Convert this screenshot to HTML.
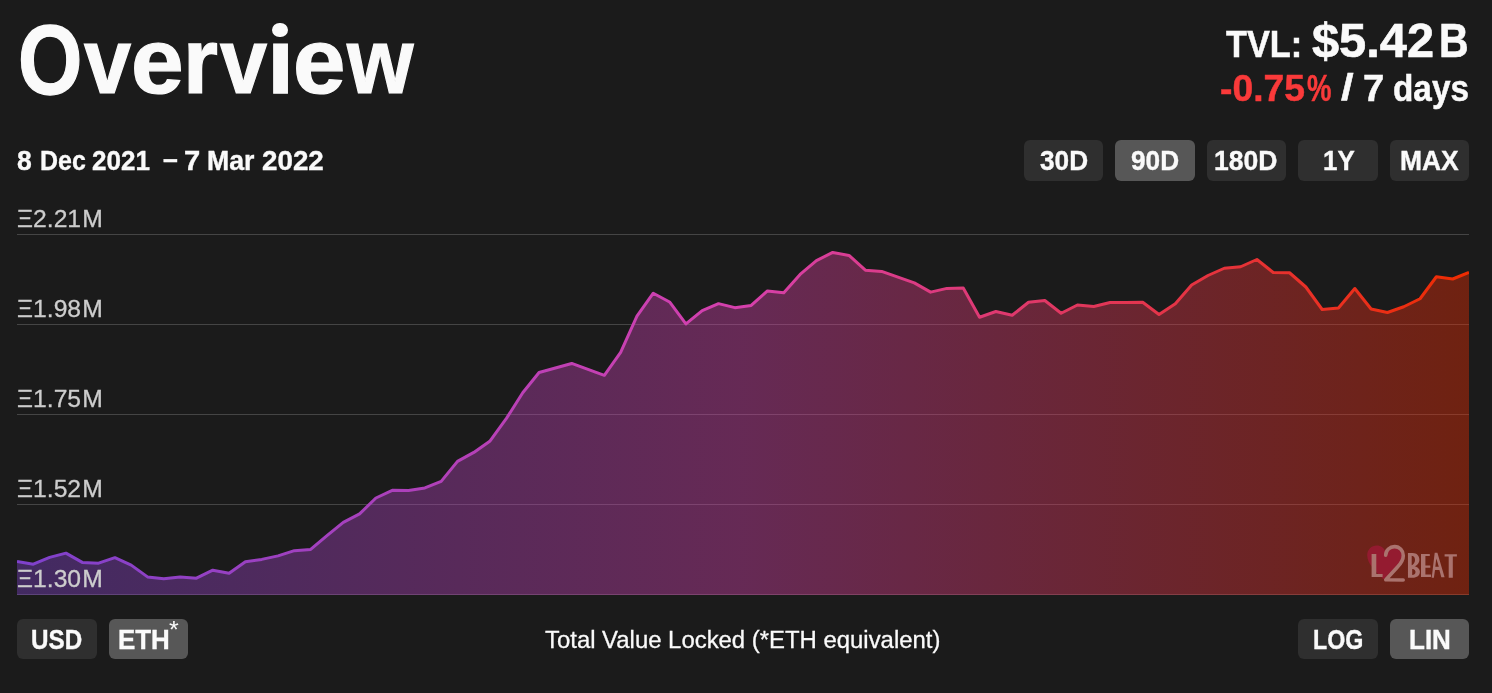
<!DOCTYPE html>
<html><head><meta charset="utf-8"><title>Overview</title>
<style>
html,body{margin:0;padding:0}
body{width:1492px;height:693px;overflow:hidden;position:relative;background:#1b1b1b;color:#fafafa;font-family:"Liberation Sans",sans-serif}
.t{position:absolute;white-space:nowrap;line-height:1;transform-origin:0 0;font-weight:bold;color:#fafafa}
#txt{position:absolute;left:0;top:0;width:1492px;height:693px;will-change:transform}
.r{font-weight:normal}
.t.red{color:#fa3a3a}
.lab{font-weight:normal;color:#cdcdcd}
.b{position:absolute;height:40.5px;width:79.4px;border-radius:6px;background:#2f2f2f}
.b.on{background:#575757}
.g{position:absolute;left:17px;width:1452px;height:1px;background:#454545}
svg{position:absolute;left:0;top:0}
</style></head><body>

<div class="g" style="top:234px"></div>
<div class="g" style="top:324px"></div>
<div class="g" style="top:414px"></div>
<div class="g" style="top:504px"></div>
<div class="g" style="top:594px"></div>
<svg width="1492" height="693" viewBox="0 0 1492 693">
<defs>
<linearGradient id="gl" gradientUnits="userSpaceOnUse" x1="17" y1="0" x2="1469" y2="0">
<stop offset="0" stop-color="#7E41CC"/><stop offset="0.5" stop-color="#D640AC"/><stop offset="1" stop-color="#EE2C01"/>
</linearGradient>
<clipPath id="cp"><rect x="17" y="200" width="1452" height="395"/></clipPath>
</defs>
<g clip-path="url(#cp)">
<path d="M17.00 561.40 L33.31 564.15 L49.63 557.40 L65.94 553.15 L82.26 562.40 L98.57 563.15 L114.89 557.65 L131.20 565.15 L147.52 576.90 L163.83 578.65 L180.15 576.90 L196.46 578.15 L212.78 570.15 L229.09 573.15 L245.40 561.65 L261.72 559.40 L278.03 555.90 L294.35 550.65 L310.66 549.40 L326.98 535.65 L343.29 522.40 L359.61 513.90 L375.92 498.00 L392.24 490.30 L408.55 490.40 L424.87 487.90 L441.18 481.40 L457.49 461.40 L473.81 452.40 L490.12 440.90 L506.44 418.40 L522.75 392.70 L539.07 372.45 L555.38 368.00 L571.70 363.45 L588.01 369.40 L604.33 375.30 L620.64 352.45 L636.96 316.20 L653.27 293.20 L669.58 301.95 L685.90 323.95 L702.21 310.70 L718.53 303.65 L734.84 307.65 L751.16 305.40 L767.47 290.90 L783.79 292.65 L800.10 274.40 L816.42 260.65 L832.73 252.40 L849.04 255.40 L865.36 270.15 L881.67 271.40 L897.99 277.15 L914.30 282.90 L930.62 292.15 L946.93 288.40 L963.25 287.90 L979.56 317.25 L995.88 311.50 L1012.19 315.25 L1028.51 302.25 L1044.82 300.50 L1061.13 313.25 L1077.45 305.00 L1093.76 306.50 L1110.08 302.50 L1126.39 302.50 L1142.71 302.25 L1159.02 314.50 L1175.34 303.75 L1191.65 285.00 L1207.97 275.50 L1224.28 268.25 L1240.60 266.75 L1256.91 259.50 L1273.22 272.50 L1289.54 272.75 L1305.85 287.00 L1322.17 309.50 L1338.48 308.00 L1354.80 288.50 L1371.11 309.00 L1387.43 312.50 L1403.74 306.75 L1420.06 298.75 L1436.37 276.75 L1452.69 279.00 L1469.00 272.50 L1469.00 595 L17.00 595 Z" fill="url(#gl)" fill-opacity="0.4"/>
<path d="M17.00 561.40 L33.31 564.15 L49.63 557.40 L65.94 553.15 L82.26 562.40 L98.57 563.15 L114.89 557.65 L131.20 565.15 L147.52 576.90 L163.83 578.65 L180.15 576.90 L196.46 578.15 L212.78 570.15 L229.09 573.15 L245.40 561.65 L261.72 559.40 L278.03 555.90 L294.35 550.65 L310.66 549.40 L326.98 535.65 L343.29 522.40 L359.61 513.90 L375.92 498.00 L392.24 490.30 L408.55 490.40 L424.87 487.90 L441.18 481.40 L457.49 461.40 L473.81 452.40 L490.12 440.90 L506.44 418.40 L522.75 392.70 L539.07 372.45 L555.38 368.00 L571.70 363.45 L588.01 369.40 L604.33 375.30 L620.64 352.45 L636.96 316.20 L653.27 293.20 L669.58 301.95 L685.90 323.95 L702.21 310.70 L718.53 303.65 L734.84 307.65 L751.16 305.40 L767.47 290.90 L783.79 292.65 L800.10 274.40 L816.42 260.65 L832.73 252.40 L849.04 255.40 L865.36 270.15 L881.67 271.40 L897.99 277.15 L914.30 282.90 L930.62 292.15 L946.93 288.40 L963.25 287.90 L979.56 317.25 L995.88 311.50 L1012.19 315.25 L1028.51 302.25 L1044.82 300.50 L1061.13 313.25 L1077.45 305.00 L1093.76 306.50 L1110.08 302.50 L1126.39 302.50 L1142.71 302.25 L1159.02 314.50 L1175.34 303.75 L1191.65 285.00 L1207.97 275.50 L1224.28 268.25 L1240.60 266.75 L1256.91 259.50 L1273.22 272.50 L1289.54 272.75 L1305.85 287.00 L1322.17 309.50 L1338.48 308.00 L1354.80 288.50 L1371.11 309.00 L1387.43 312.50 L1403.74 306.75 L1420.06 298.75 L1436.37 276.75 L1452.69 279.00 L1469.00 272.50" fill="none" stroke="url(#gl)" stroke-width="3" stroke-linejoin="round"/>
</g>
</svg>

<div class="b" style="left:1024px;top:140px;width:79px;height:41px"></div>
<div class="b on" style="left:1115px;top:140px;width:80px;height:41px"></div>
<div class="b" style="left:1207px;top:140px;width:79px;height:41px"></div>
<div class="b" style="left:1298px;top:140px;width:80px;height:41px"></div>
<div class="b" style="left:1390px;top:140px;width:79px;height:41px"></div>
<div class="b" style="left:17px;top:619px;width:80px;height:40px"></div>
<div class="b on" style="left:109px;top:619px;width:79px;height:40px"></div>
<div class="b" style="left:1298px;top:619px;width:80px;height:40px"></div>
<div class="b on" style="left:1390px;top:619px;width:79px;height:40px"></div>
<div id="txt">
<div class="t lab" id="lab0" style="left:16.93px;top:206.72px;font-size:24.80px;transform:scaleX(0.9956);-webkit-text-stroke:0.3px">&#926;2.21<span style="margin-left:1.1px">M</span></div>
<div class="t lab" id="lab1" style="left:16.93px;top:296.72px;font-size:24.80px;transform:scaleX(0.9956);-webkit-text-stroke:0.3px">&#926;1.98<span style="margin-left:1.1px">M</span></div>
<div class="t lab" id="lab2" style="left:16.93px;top:386.72px;font-size:24.80px;transform:scaleX(0.9956);-webkit-text-stroke:0.3px">&#926;1.75<span style="margin-left:1.1px">M</span></div>
<div class="t lab" id="lab3" style="left:16.93px;top:476.72px;font-size:24.80px;transform:scaleX(0.9956);-webkit-text-stroke:0.3px">&#926;1.52<span style="margin-left:1.1px">M</span></div>
<div class="t lab" id="lab4" style="left:16.93px;top:566.72px;font-size:24.80px;transform:scaleX(0.9956);-webkit-text-stroke:0.3px">&#926;1.30<span style="margin-left:1.1px">M</span></div>
<div class="t " id="tO" style="left:17.94px;top:11.57px;font-size:97.30px;transform:scale(0.8504,1.0060);-webkit-text-stroke:0.0135em">O</div>
<div class="t " id="tv1" style="left:83.53px;top:14.67px;font-size:97.30px;transform:scale(0.8690,0.9500);-webkit-text-stroke:0.0135em">v</div>
<div class="t " id="te1" style="left:131.10px;top:15.07px;font-size:97.30px;transform:scale(0.9724,0.9500);-webkit-text-stroke:0.0135em">e</div>
<div class="t " id="tr" style="left:182.84px;top:14.67px;font-size:97.30px;transform:scale(0.9214,0.9500);-webkit-text-stroke:0.0135em">r</div>
<div class="t " id="tv2" style="left:219.57px;top:14.67px;font-size:97.30px;transform:scale(0.8692,0.9500);-webkit-text-stroke:0.0135em">v</div>
<div class="t " id="ti" style="left:266.52px;top:14.67px;font-size:97.30px;transform:scale(1.0065,0.9500);-webkit-text-stroke:0.0135em">i</div>
<div class="t " id="te2" style="left:292.84px;top:15.07px;font-size:97.30px;transform:scale(0.9683,0.9500);-webkit-text-stroke:0.0135em">e</div>
<div class="t " id="tw" style="left:346.50px;top:14.67px;font-size:97.30px;transform:scale(0.8781,0.9500);-webkit-text-stroke:0.0135em">w</div>
<div class="dot" style="position:absolute;left:270px;top:19px;width:20px;height:21.5px;background:#1b1b1b"></div><div class="dot" style="position:absolute;left:272.2px;top:22.6px;width:16px;height:14.8px;border-radius:50%;background:#fafafa"></div>
<div class="t " id="d8" style="left:16.80px;top:147.28px;font-size:27.37px;transform:scaleX(0.9700);-webkit-text-stroke:0.0135em">8</div>
<div class="t " id="dDec" style="left:40.00px;top:147.28px;font-size:27.37px;transform:scaleX(0.9123);-webkit-text-stroke:0.0135em">Dec</div>
<div class="t " id="d2021" style="left:92.47px;top:147.28px;font-size:27.37px;transform:scaleX(0.9524);-webkit-text-stroke:0.0135em">2021</div>
<div class="t " id="ddash" style="left:162.72px;top:145.07px;font-size:27.37px;transform:scaleX(0.9741);-webkit-text-stroke:0.0135em">&#8211;</div>
<div class="t " id="d7" style="left:184.07px;top:147.28px;font-size:27.37px;transform:scaleX(1.0666);-webkit-text-stroke:0.0135em">7</div>
<div class="t " id="dMar" style="left:207.42px;top:147.28px;font-size:27.37px;transform:scaleX(0.9751);-webkit-text-stroke:0.0135em">Mar</div>
<div class="t " id="d2022" style="left:261.58px;top:147.28px;font-size:27.37px;transform:scaleX(1.0155);-webkit-text-stroke:0.0135em">2022</div>
<div class="t " id="tvl" style="left:1226.29px;top:27.11px;font-size:36.49px;transform:scaleX(0.9410);-webkit-text-stroke:0.0135em">TVL:</div>
<div class="t " id="v1" style="left:1311.70px;top:15.84px;font-size:48.65px;transform:scaleX(1.0022);-webkit-text-stroke:0.0135em">$5.42</div>
<div class="t " id="v2" style="left:1439.06px;top:15.84px;font-size:48.65px;transform:scaleX(0.8432);-webkit-text-stroke:0.0135em">B</div>
<div class="t red" id="p1" style="left:1219.72px;top:70.95px;font-size:36.49px;transform:scaleX(1.0218);-webkit-text-stroke:0.0135em">-0.75</div>
<div class="t red" id="p2" style="left:1306.68px;top:70.95px;font-size:36.49px;transform:scaleX(0.7540);-webkit-text-stroke:0.0135em">%</div>
<div class="t " id="y1" style="left:1340.52px;top:69.85px;font-size:36.49px;transform:scaleX(1.2429);-webkit-text-stroke:0.0135em">/</div>
<div class="t " id="y2" style="left:1363.40px;top:70.95px;font-size:36.49px;transform:scaleX(1.0476);-webkit-text-stroke:0.0135em">7</div>
<div class="t " id="y3" style="left:1393.28px;top:70.95px;font-size:36.49px;transform:scaleX(0.9132);-webkit-text-stroke:0.0135em">days</div>
<div class="t " id="b30D" style="left:1039.59px;top:147.28px;font-size:27.37px;transform:scaleX(0.9584);-webkit-text-stroke:0.0135em">30D</div>
<div class="t " id="b90D" style="left:1130.68px;top:147.28px;font-size:27.37px;transform:scaleX(0.9584);-webkit-text-stroke:0.0135em">90D</div>
<div class="t " id="b180D" style="left:1213.64px;top:147.28px;font-size:27.37px;transform:scaleX(0.9694);-webkit-text-stroke:0.0135em">180D</div>
<div class="t " id="b1Y" style="left:1322.57px;top:147.28px;font-size:27.37px;transform:scaleX(0.9474);-webkit-text-stroke:0.0135em">1Y</div>
<div class="t " id="bMAX" style="left:1399.85px;top:147.28px;font-size:27.37px;transform:scaleX(0.9665);-webkit-text-stroke:0.0135em">MAX</div>
<div class="t " id="bUSD" style="left:30.89px;top:625.68px;font-size:27.37px;transform:scaleX(0.8859);-webkit-text-stroke:0.0135em">USD</div>
<div class="t " id="bETH" style="left:118.43px;top:625.68px;font-size:27.37px;transform:scaleX(0.9469);-webkit-text-stroke:0.0135em">ETH</div>
<div class="t " id="bLOG" style="left:1312.95px;top:625.68px;font-size:27.37px;transform:scaleX(0.8496);-webkit-text-stroke:0.0135em">LOG</div>
<div class="t " id="bLIN" style="left:1408.89px;top:625.68px;font-size:27.37px;transform:scaleX(0.9503);-webkit-text-stroke:0.0135em">LIN</div>
<div class="t r" id="ast" style="left:168.55px;top:618.60px;font-size:23.00px;transform:scaleX(1.0888)">*</div>
<div class="t r" id="cap" style="left:544.77px;top:628.12px;font-size:24.80px;transform:scaleX(0.9637);-webkit-text-stroke:0.3px">Total Value Locked (*ETH equivalent)</div>
</div>
<svg style="left:1362px;top:540px" width="100" height="46" viewBox="0 0 100 46">
<path d="M21.5,39.2 C14,32 5.2,24 5.2,15.2 C5.2,9.5 9.5,5.4 14.8,5.4 C19,5.4 22,8 23.3,11 C24.5,8 28,5.4 32.5,5.4 C37.5,5.4 41.5,9.5 41.5,15.2 C41.5,24 29,32 21.5,39.2 Z" fill="#941b30"/>
<path d="M9.6,13.9 L14.3,13.9 L14.3,33.9 L20.6,33.9 L20.6,36.9 L9.6,36.9 Z" fill="#aa736e"/>
<path d="M23.7,15.2 A8.8,8.8 0 0 1 41.3,15.6 C41.3,20 39,23.5 35.5,27 L23.8,39.8 L41.2,40.0" fill="none" stroke="#aa736e" stroke-width="3.6" stroke-linecap="round" stroke-linejoin="round"/>
<g transform="translate(42,6)" fill="#aa736e" fill-rule="evenodd">
<path d="M3.95,7.1 L8.5,7.1 C13,7.1 15.4,10 15.4,13.7 C15.4,17 13,19.5 10.5,20.3 C13.5,21 15.9,23 15.9,25.8 C15.9,29.5 13,31.8 8.5,31.8 L3.95,31.8 Z M7.7,9.8 C10,9.8 11,12 11,14 C11,16.5 9.5,18.5 7.7,19.2 Z M8.2,23 C10.5,23 11.5,24.5 11.5,26 C11.5,28 10,29 8.2,29 Z"/>
<path d="M17,7.95 L25.8,7.95 L25.8,10.1 L21.4,10.1 L21.4,19.5 L26.3,19.5 L26.3,21.7 L21.4,21.7 L21.4,28.5 L27.1,28.5 L27.1,31 L17,31 Z"/>
<path d="M30.7,6.85 L33.4,6.85 L40.6,31.3 L37.3,31.3 L35.4,24.1 L31.0,24.1 L29.9,31.8 L27.7,31.8 Z M32.3,12.5 L34.8,20.8 L31.3,20.8 Z"/>
<path d="M40.6,8.2 L52.9,8.2 L52.9,10.4 L48.8,10.4 L48.8,31.8 L44.7,31.8 L44.7,10.4 L40.6,10.4 Z"/>
</g>
</svg>

</body></html>
